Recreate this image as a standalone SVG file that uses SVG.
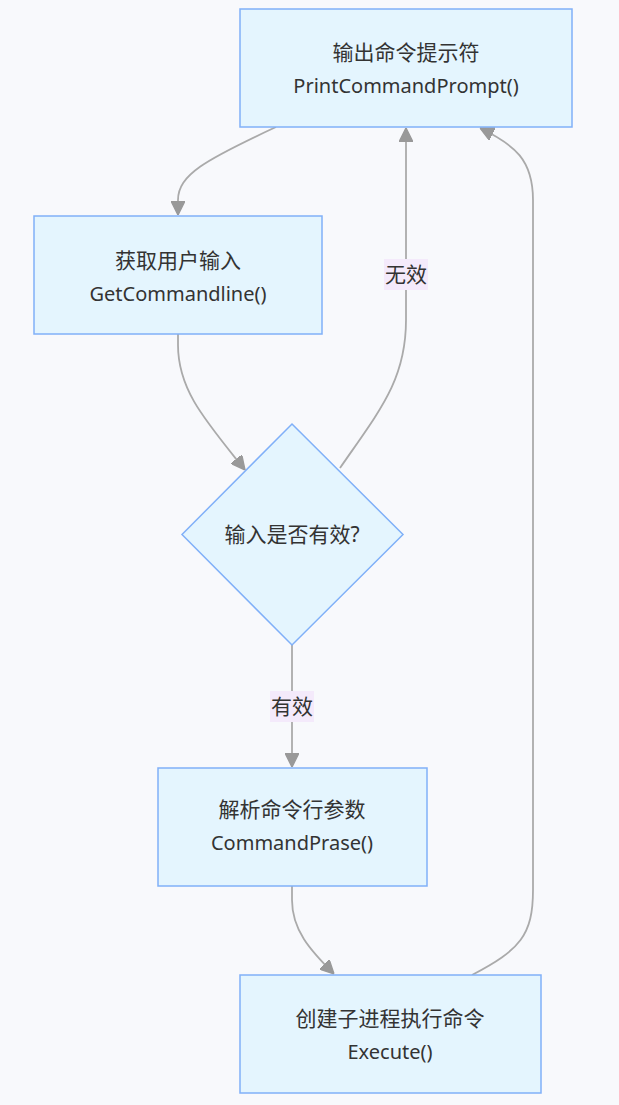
<svg xmlns="http://www.w3.org/2000/svg" width="619" height="1105" viewBox="0 0 619 1105">
<style>
.node{fill:#e4f5fe;stroke:#80b0f8;stroke-width:1.5}
.t{font-family:"Noto Sans","Noto Sans CJK SC",sans-serif;font-size:20px;fill:#333;text-anchor:middle}
.c{font-size:21px}
.e{fill:none;stroke:#aaaaaa;stroke-width:1.8}
.lb{fill:#f4eafb}
</style>
<defs>
<marker id="ah" viewBox="0 0 10 10" refX="10" refY="5" markerUnits="userSpaceOnUse" markerWidth="14" markerHeight="14" orient="auto">
<path d="M0,0 L10,5 L0,10 z" fill="#999" stroke="#999" stroke-width="1"/>
</marker>
</defs>
<rect width="619" height="1105" fill="#f8f9fc"/>
<g id="edges">
<path class="e" d="M276,127 C205,160 178,175 178,200 L178,215" marker-end="url(#ah)"/>
<path class="e" d="M178,334 L178,345 C178,390 205,420 245,470" marker-end="url(#ah)"/>
<path class="e" d="M340,468 C380,410 406,380 406,320 L406,128" marker-end="url(#ah)"/>
<path class="e" d="M292,645 L292,767" marker-end="url(#ah)"/>
<path class="e" d="M292,886 L292,900 C292,930 310,950 334,974" marker-end="url(#ah)"/>
<path class="e" d="M472,975 C520,950 533,935 533,890 L533,200 C533,160 515,145 480,128" marker-end="url(#ah)"/>
<g id="label-invalid">
<rect class="lb" x="384" y="259" width="44" height="31"/>
<text class="t c" x="406" y="282">无效</text>
</g>
<g id="label-valid">
<rect class="lb" x="270" y="691" width="44" height="31"/>
<text class="t c" x="292" y="714">有效</text>
</g>
</g>
<g id="node-prompt">
<rect class="node" x="240" y="9" width="332" height="118"/>
<text class="t c" x="406" y="60">输出命令提示符</text>
<text class="t" x="406" y="93">PrintCommandPrompt()</text>
</g>
<g id="node-getline">
<rect class="node" x="34" y="216" width="288" height="118"/>
<text class="t c" x="178" y="268">获取用户输入</text>
<text class="t" x="178" y="301">GetCommandline()</text>
</g>
<g id="node-check">
<polygon class="node" points="292,424 403,534.5 292,645 182,534.5"/>
<text class="t c" x="292" y="542">输入是否有效?</text>
</g>
<g id="node-parse">
<rect class="node" x="158" y="768" width="269" height="118"/>
<text class="t c" x="292" y="817">解析命令行参数</text>
<text class="t" x="292" y="850">CommandPrase()</text>
</g>
<g id="node-exec">
<rect class="node" x="240" y="975" width="301" height="118"/>
<text class="t c" x="390" y="1026">创建子进程执行命令</text>
<text class="t" x="390" y="1059">Execute()</text>
</g>
</svg>
